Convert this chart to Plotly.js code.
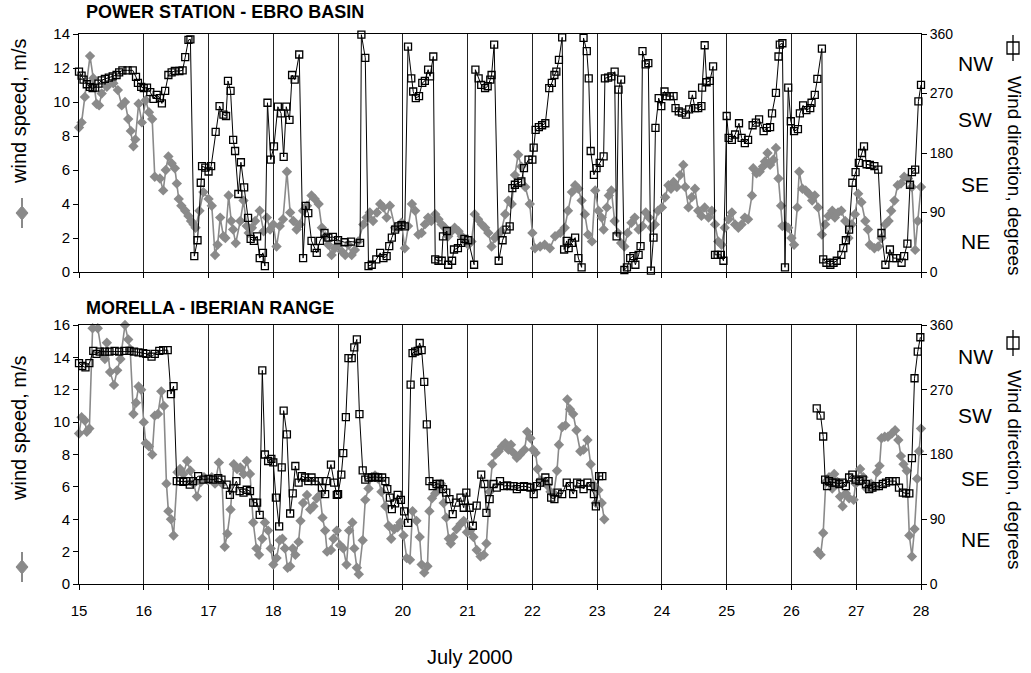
<!DOCTYPE html>
<html><head><meta charset="utf-8">
<script src="https://cdn.plot.ly/plotly-3.0.1.min.js"></script>
<style>html,body{margin:0;padding:0;background:#fff;}#chart{width:1031px;height:673px;}</style>
</head><body><div id="chart"></div>
<script>
// ---------- DATA (day of July 2000, value) ----------
const topDirT = [15.00,15.04,15.07,15.12,15.17,15.21,15.25,15.30,15.35,15.40,15.46,15.52,15.58,15.62,15.67,15.75,15.83,15.88,15.91,15.96,16.00,16.05,16.10,16.15,16.20,16.25,16.28,16.33,16.38,16.43,16.48,16.55,16.60,16.64,16.69,16.72,16.78,16.83,16.88,16.90,16.95,17.00,17.04,17.11,17.17,17.23,17.27,17.30,17.34,17.38,17.41,17.46,17.50,17.55,17.61,17.65,17.70,17.75,17.79,17.84,17.87,17.91,17.96,18.01,18.07,18.12,18.16,18.20,18.25,18.29,18.33,18.40,18.46,18.50,18.54,18.59,18.64,18.67,18.72,18.79,18.85,18.92,19.00,19.10,19.20,19.34,19.36,19.42,19.47,19.52,19.59,19.65,19.70,19.75,19.79,19.83,19.88,19.93,19.98,20.03,20.08,20.13,20.16,20.20,20.25,20.30,20.34,20.39,20.42,20.47,20.50,20.55,20.60,20.62,20.68,20.70,20.76,20.79,20.85,20.90,20.95,21.01,21.10,21.12,21.17,21.21,21.27,21.31,21.35,21.37,21.41,21.48,21.54,21.60,21.65,21.69,21.73,21.78,21.83,21.87,21.94,22.00,22.02,22.05,22.10,22.15,22.20,22.26,22.30,22.34,22.37,22.41,22.46,22.49,22.53,22.56,22.61,22.66,22.71,22.76,22.79,22.84,22.87,22.90,22.95,22.99,23.04,23.10,23.12,23.17,23.22,23.27,23.30,23.33,23.37,23.42,23.46,23.51,23.56,23.59,23.64,23.67,23.70,23.75,23.79,23.83,23.87,23.90,23.95,23.99,24.04,24.07,24.12,24.18,24.21,24.26,24.31,24.37,24.42,24.47,24.51,24.56,24.61,24.62,24.66,24.69,24.74,24.79,24.82,24.86,24.91,24.95,25.00,25.03,25.08,25.13,25.19,25.23,25.28,25.33,25.40,25.45,25.50,25.57,25.62,25.67,25.70,25.76,25.80,25.82,25.86,25.90,25.95,25.99,26.04,26.10,26.13,26.18,26.23,26.29,26.31,26.36,26.40,26.47,26.49,26.54,26.60,26.65,26.70,26.77,26.80,26.84,26.89,26.94,26.99,27.04,27.09,27.12,27.16,27.21,27.28,27.34,27.39,27.45,27.52,27.57,27.62,27.70,27.74,27.79,27.83,27.86,27.91,27.96,28.00];
const topDirV = [303,297,291,284,280,278,279,285,290,292,294,296,298,302,305,305,305,295,286,280,278,279,272,262,268,263,255,274,298,302,304,304,305,325,351,352,24,48,135,160,158,152,160,212,251,238,236,289,274,200,183,118,166,128,82,50,47,54,21,29,9,256,170,190,250,240,174,250,230,298,291,329,21,100,89,47,36,29,47,59,52,53,48,45,46,44,359,324,9,11,19,29,21,24,39,52,64,69,71,69,341,293,273,263,266,286,289,306,296,326,19,17,17,54,62,11,17,34,36,44,50,48,11,306,293,283,278,281,291,298,344,17,48,64,69,127,132,135,137,157,170,170,188,215,219,222,225,278,286,298,303,321,355,34,47,36,44,52,21,7,354,334,293,183,147,157,165,175,293,294,296,303,54,276,291,3,7,21,24,11,26,39,334,314,316,2,52,218,263,251,273,266,266,266,248,243,241,238,246,268,248,248,251,279,343,287,289,311,26,26,26,17,236,203,200,208,225,203,195,200,222,226,231,213,218,219,240,271,326,344,346,7,279,228,213,216,240,252,245,248,256,268,292,338,19,14,11,14,17,26,36,48,64,135,151,165,180,190,163,162,160,155,59,11,34,21,21,14,24,43,132,151,155,258,283];

const topSpdT = [15.00,15.04,15.09,15.17,15.22,15.27,15.31,15.35,15.43,15.53,15.60,15.66,15.71,15.76,15.80,15.84,15.87,15.92,15.97,16.03,16.08,16.13,16.17,16.25,16.30,16.34,16.38,16.43,16.48,16.51,16.54,16.58,16.64,16.69,16.73,16.77,16.80,16.86,16.92,17.00,17.05,17.10,17.14,17.18,17.23,17.26,17.31,17.35,17.38,17.42,17.49,17.54,17.59,17.62,17.67,17.72,17.79,17.85,17.90,17.95,18.00,18.05,18.10,18.15,18.21,18.26,18.31,18.36,18.41,18.46,18.52,18.59,18.64,18.70,18.75,18.80,18.85,18.90,18.95,19.00,19.06,19.11,19.16,19.21,19.26,19.31,19.39,19.44,19.49,19.54,19.60,19.65,19.70,19.75,19.80,19.88,19.93,19.98,20.03,20.08,20.14,20.19,20.24,20.29,20.34,20.39,20.44,20.50,20.55,20.60,20.65,20.70,20.75,20.80,20.86,20.91,20.96,21.01,21.06,21.11,21.16,21.22,21.27,21.32,21.37,21.42,21.47,21.52,21.58,21.63,21.68,21.73,21.78,21.83,21.89,21.96,22.00,22.04,22.12,22.19,22.27,22.35,22.43,22.50,22.55,22.61,22.66,22.71,22.76,22.81,22.86,22.92,22.97,23.02,23.07,23.10,23.15,23.18,23.22,23.27,23.32,23.37,23.42,23.47,23.53,23.58,23.64,23.70,23.75,23.80,23.84,23.89,23.94,24.00,24.05,24.10,24.14,24.18,24.23,24.28,24.33,24.36,24.41,24.46,24.51,24.56,24.61,24.66,24.72,24.77,24.82,24.87,24.92,24.97,25.03,25.08,25.13,25.18,25.23,25.28,25.33,25.39,25.41,25.46,25.51,25.56,25.59,25.63,25.67,25.72,25.76,25.80,25.84,25.86,25.91,25.95,26.00,26.04,26.09,26.12,26.17,26.22,26.27,26.32,26.36,26.41,26.47,26.52,26.57,26.63,26.67,26.72,26.77,26.83,26.88,26.93,26.98,27.03,27.08,27.14,27.18,27.21,27.28,27.34,27.39,27.45,27.50,27.54,27.59,27.64,27.69,27.74,27.80,27.86,27.91,27.95,28.00];
const topSpdV = [8.5,8.8,10.3,12.7,11.4,9.9,9.8,10.5,10.9,11.1,10.7,9.8,10.0,9.0,8.3,7.4,7.8,9.9,8.8,10.1,9.4,9.0,5.6,5.5,4.8,6.0,6.8,6.4,6.1,5.2,4.3,3.9,3.6,3.3,3.0,2.8,2.6,3.6,4.7,4.3,3.9,1.0,1.6,3.2,2.1,2.0,4.5,3.0,2.5,1.7,3.0,4.2,2.7,2.3,2.6,3.0,3.6,2.4,3.2,2.5,2.8,1.5,2.7,3.1,5.9,3.5,3.0,2.5,2.8,3.6,3.9,4.5,4.3,4.0,2.6,2.1,1.6,1.0,1.4,1.6,1.2,1.0,1.6,1.0,1.3,1.8,2.8,3.2,3.5,3.0,3.5,4.0,3.8,3.2,3.9,2.6,2.6,2.9,1.4,2.7,4.0,3.6,2.2,2.3,2.8,3.2,3.0,3.4,3.1,2.8,2.6,2.1,2.4,2.6,2.4,2.1,1.8,1.6,1.8,3.4,3.1,2.8,2.6,2.3,1.5,2.0,2.2,2.4,3.4,4.2,4.0,5.7,6.9,6.2,5.0,4.0,2.3,1.4,1.5,1.6,1.4,2.1,2.3,2.6,3.6,4.7,5.1,4.9,4.2,3.4,2.2,1.8,4.8,3.6,3.2,2.5,3.8,4.5,4.8,3.0,2.3,1.7,1.5,2.3,2.9,3.2,2.5,2.7,3.5,3.2,2.6,2.8,3.6,3.8,4.4,5.1,4.9,5.3,5.0,5.7,6.3,5.0,3.8,4.4,4.9,3.6,3.3,3.8,3.2,3.6,2.8,1.8,1.6,2.6,3.1,3.5,2.8,2.6,2.8,3.2,3.1,4.5,6.1,5.8,5.9,6.2,6.5,7.0,6.3,6.6,7.3,5.5,3.9,2.7,2.7,2.6,2.0,1.6,3.8,5.9,4.9,4.8,4.6,4.2,4.5,3.8,2.2,2.8,3.3,3.6,3.2,3.5,3.6,3.0,2.0,2.8,3.4,4.6,4.1,3.0,2.5,1.6,1.4,1.5,2.0,2.8,3.0,3.6,4.2,5.1,5.2,5.6,5.5,5.0,1.3,3.0,5.0];

const botDirT = [15.00,15.05,15.10,15.16,15.22,15.27,15.32,15.40,15.47,15.55,15.62,15.70,15.78,15.85,15.92,15.99,16.04,16.12,16.17,16.24,16.30,16.37,16.42,16.46,16.51,16.56,16.61,16.66,16.71,16.76,16.84,16.92,17.00,17.07,17.15,17.20,17.28,17.33,17.38,17.43,17.48,17.54,17.59,17.64,17.69,17.75,17.79,17.83,17.87,17.92,17.97,18.00,18.04,18.09,18.13,18.16,18.21,18.26,18.30,18.34,18.39,18.44,18.49,18.54,18.59,18.64,18.70,18.75,18.80,18.82,18.89,18.94,18.98,19.00,19.05,19.08,19.12,19.16,19.21,19.25,19.29,19.33,19.38,19.42,19.47,19.52,19.57,19.62,19.68,19.73,19.76,19.80,19.83,19.88,19.92,19.97,20.02,20.08,20.12,20.15,20.19,20.23,20.26,20.29,20.33,20.37,20.41,20.46,20.52,20.57,20.62,20.67,20.72,20.77,20.82,20.89,20.94,20.98,21.03,21.08,21.14,21.21,21.26,21.29,21.34,21.40,21.45,21.50,21.56,21.61,21.66,21.71,21.76,21.81,21.87,21.92,21.97,22.02,22.07,22.12,22.20,22.25,22.29,22.34,22.39,22.46,22.53,22.58,22.63,22.69,22.74,22.79,22.85,22.90,22.95,22.98,23.03,23.08,24.50,26.39,26.45,26.49,26.52,26.55,26.58,26.63,26.68,26.74,26.79,26.84,26.89,26.94,26.99,27.05,27.10,27.15,27.20,27.25,27.30,27.35,27.41,27.46,27.51,27.56,27.61,27.66,27.72,27.77,27.82,27.86,27.90,27.95,27.99];
const botDirV = [307,303,301,307,324,320,323,323,323,324,323,324,324,323,322,321,320,316,320,324,325,325,264,275,143,143,142,143,138,143,150,145,146,145,147,145,138,124,133,143,129,127,131,129,113,113,96,297,180,171,174,169,120,80,162,241,208,98,126,164,141,150,148,143,148,143,143,134,125,143,166,141,124,125,152,182,232,314,314,329,340,236,158,145,148,148,149,148,148,143,132,120,104,112,124,117,101,85,277,321,323,324,335,325,281,222,143,136,139,139,132,127,118,97,113,120,106,127,106,81,109,152,139,99,118,139,134,143,136,137,136,136,132,135,136,135,134,125,136,141,148,143,120,118,127,125,141,136,125,141,139,132,141,136,125,108,150,150,null,244,234,205,145,136,143,141,141,139,141,136,148,152,145,143,145,139,132,134,136,136,139,141,143,143,143,134,127,126,126,175,286,323,343];

const botSpdT = [15.00,15.04,15.09,15.12,15.16,15.21,15.29,15.35,15.40,15.43,15.48,15.54,15.59,15.64,15.71,15.76,15.79,15.84,15.88,15.92,15.96,16.00,16.03,16.08,16.13,16.17,16.22,16.27,16.31,16.35,16.38,16.42,16.46,16.52,16.56,16.61,16.67,16.72,16.77,16.82,16.88,16.93,16.99,17.05,17.10,17.16,17.21,17.25,17.29,17.34,17.39,17.44,17.49,17.54,17.59,17.64,17.69,17.74,17.78,17.83,17.87,17.92,17.96,18.00,18.05,18.10,18.14,18.18,18.22,18.26,18.30,18.34,18.39,18.42,18.46,18.52,18.57,18.62,18.67,18.72,18.76,18.80,18.83,18.89,18.93,18.98,19.03,19.08,19.13,19.17,19.22,19.25,19.29,19.32,19.38,19.42,19.47,19.52,19.57,19.62,19.67,19.73,19.78,19.82,19.87,19.92,19.96,20.01,20.06,20.11,20.15,20.21,20.26,20.29,20.33,20.38,20.41,20.45,20.50,20.54,20.59,20.63,20.67,20.71,20.74,20.78,20.83,20.89,20.94,20.99,21.04,21.09,21.14,21.20,21.25,21.29,21.34,21.38,21.43,21.48,21.53,21.58,21.63,21.67,21.71,21.76,21.81,21.88,21.92,21.97,22.01,22.05,22.08,22.12,22.17,22.23,22.28,22.33,22.38,22.41,22.46,22.51,22.54,22.58,22.63,22.68,22.74,22.79,22.85,22.90,22.95,22.98,23.02,23.07,23.11,24.50,26.41,26.45,26.49,26.53,26.58,26.63,26.66,26.71,26.75,26.79,26.84,26.89,26.96,26.99,27.06,27.11,27.16,27.23,27.28,27.32,27.36,27.39,27.44,27.49,27.55,27.60,27.65,27.69,27.73,27.78,27.82,27.86,27.90,27.94,27.97,28.00];
const botSpdV = [9.3,10.3,10.1,9.4,9.6,15.8,15.8,14.3,13.9,14.9,13.1,12.3,13.2,13.9,16.0,15.1,14.5,10.5,11.2,12.2,12.0,10.0,8.7,8.5,8.0,10.4,10.5,11.9,11.0,6.2,4.5,4.0,3.0,6.9,7.1,6.8,7.6,7.0,6.2,5.4,6.3,6.6,6.4,6.6,6.2,7.5,6.2,2.3,3.1,4.6,7.4,7.1,7.2,6.8,7.6,6.8,3.8,2.2,1.8,2.8,3.8,3.3,2.2,1.2,1.6,2.7,2.8,2.2,1.0,1.1,2.2,1.8,2.6,3.9,5.0,5.5,4.6,4.8,5.3,5.5,4.1,3.3,2.0,2.1,2.8,3.3,2.4,2.2,1.2,3.3,3.8,2.2,1.0,0.6,2.7,5.2,5.9,6.6,6.7,6.5,5.7,4.8,3.6,2.8,3.4,3.5,3.8,3.0,1.6,1.5,4.5,3.9,2.9,1.2,0.7,1.1,4.5,5.3,5.6,5.8,6.2,5.0,4.1,2.8,2.5,2.9,3.4,3.7,3.9,3.2,3.3,2.9,2.1,1.7,1.8,2.5,5.7,7.4,8.0,8.2,8.5,8.7,8.3,8.6,8.1,7.8,8.0,8.3,9.4,9.0,8.3,8.1,7.1,6.4,6.3,6.1,5.7,5.6,7.0,8.6,9.7,9.8,11.4,10.8,10.5,9.5,8.2,8.3,8.9,7.4,6.1,5.0,5.8,5.0,4.0,null,2.0,1.8,3.15,6.3,6.6,5.9,6.8,6.3,5.4,4.8,5.6,5.3,5.2,6.2,7.1,6.6,5.9,6.2,6.0,6.9,7.3,9.0,9.1,9.1,9.3,9.5,8.9,7.9,7.4,7.0,3.0,1.7,3.4,6.5,8.2,9.6];

const dayTicks = [15,16,17,18,19,20,21,22,23,24,25,26,27,28];
const dirTicks = [0,90,180,270,360];
const compass = ['NE','SE','SW','NW'];
const panelTitles = ['POWER STATION - EBRO BASIN','MORELLA - IBERIAN RANGE'];

// ---------- LAYOUT ----------
const FONT = 'Liberation Sans, Arial, sans-serif';
const W=1031, H=673, ML=79, MR=110, MT=34, MB=89;
const PW=W-ML-MR, PH=H-MT-MB;
const px = x => (x-ML)/PW;
const py = y => (H-MB-y)/PH;

const GREY='#8a8a8a';
const spdTrace = (t,v,xa,ya) => ({x:t,y:v,xaxis:xa,yaxis:ya,type:'scatter',mode:'lines+markers',
  line:{color:GREY,width:1.6},marker:{symbol:'diamond',size:8,color:GREY},cliponaxis:false,hoverinfo:'x+y'});
const dirTrace = (t,v,xa,ya) => ({x:t,y:v,xaxis:xa,yaxis:ya,type:'scatter',mode:'lines+markers',
  line:{color:'#000',width:1},marker:{symbol:'square-open',size:7,color:'#000',line:{width:1.3,color:'#000'}},cliponaxis:false,hoverinfo:'x+y'});

const data = [
  spdTrace(topSpdT,topSpdV,'x','y'),
  dirTrace(topDirT,topDirV,'x','y2'),
  spdTrace(botSpdT,botSpdV,'x2','y3'),
  dirTrace(botDirT,botDirV,'x2','y4')
];

const xBase = {range:[15,28],tickvals:dayTicks,showgrid:true,gridcolor:'#222',gridwidth:1,
  showline:true,linecolor:'#000',linewidth:1,mirror:true,ticks:'outside',ticklen:5,tickcolor:'#000',
  zeroline:false,fixedrange:true,tickfont:{size:15,family:FONT}};
const yLeft = {showline:true,linecolor:'#000',linewidth:1,ticks:'outside',ticklen:5,tickcolor:'#000',
  showgrid:false,zeroline:false,dtick:2,tickfont:{size:15,family:FONT},fixedrange:true};
const yRight = {side:'right',range:[0,360],tickvals:dirTicks,showline:true,linecolor:'#000',linewidth:1,
  ticks:'outside',ticklen:5,tickcolor:'#000',showgrid:false,zeroline:false,tickfont:{size:14,family:FONT},fixedrange:true};

const annotations = [];
annotations.push({text:'<b>'+panelTitles[0]+'</b>',xref:'paper',yref:'paper',x:px(84),y:py(12),xanchor:'left',yanchor:'middle',showarrow:false,font:{size:18,family:FONT}});
annotations.push({text:'<b>'+panelTitles[1]+'</b>',xref:'paper',yref:'paper',x:px(84),y:py(308),xanchor:'left',yanchor:'middle',showarrow:false,font:{size:18,family:FONT}});
// compass labels
const topCompY=[241,184,119,63], botCompY=[539,478,415,356];
compass.forEach((c,i)=>{
  annotations.push({text:c,xref:'paper',yref:'paper',x:px(975),y:py(topCompY[i]),xanchor:'center',yanchor:'middle',showarrow:false,font:{size:21,family:FONT}});
  annotations.push({text:c,xref:'paper',yref:'paper',x:px(975),y:py(botCompY[i]),xanchor:'center',yanchor:'middle',showarrow:false,font:{size:21,family:FONT}});
});
// axis titles
[111,428].forEach(cy=>{
  annotations.push({text:'wind speed, m/s',xref:'paper',yref:'paper',x:px(19),y:py(cy),xanchor:'center',yanchor:'middle',textangle:-90,showarrow:false,font:{size:20,family:FONT}});
});
[176,470].forEach(cy=>{
  annotations.push({text:'Wind direction, degrees',xref:'paper',yref:'paper',x:px(1015),y:py(cy),xanchor:'center',yanchor:'middle',textangle:90,showarrow:false,font:{size:19,family:FONT}});
});
annotations.push({text:'July 2000',xref:'paper',yref:'paper',x:px(470),y:py(657),xanchor:'center',yanchor:'middle',showarrow:false,font:{size:20,family:FONT}});

// legend-style symbols next to axis titles
const shapes = [];
function diamond(cx,cy){
  const pts=[[cx,cy-7],[cx+6,cy],[cx,cy+7],[cx-6,cy]];
  return {type:'path',xref:'paper',yref:'paper',path:'M'+pts.map(p=>px(p[0])+','+py(p[1])).join(' L')+' Z',fillcolor:GREY,line:{color:GREY,width:1}};
}
function vline(x,y0,y1,color,w){return {type:'line',xref:'paper',yref:'paper',x0:px(x),x1:px(x),y0:py(y0),y1:py(y1),line:{color:color,width:w}};}
function sq(cx,cy){return {type:'rect',xref:'paper',yref:'paper',x0:px(cx-6),x1:px(cx+6),y0:py(cy-6),y1:py(cy+6),fillcolor:'rgba(255,255,255,0)',line:{color:'#000',width:1.3}};}
[213,567].forEach(cy=>{shapes.push(vline(22,cy-15,cy+15,GREY,2)); shapes.push(diamond(22,cy));});
[48,343].forEach(cy=>{shapes.push(vline(1013,cy-13,cy+13,'#000',1.3)); shapes.push(sq(1013,cy));});

const layout = {
  width:W,height:H,margin:{l:ML,r:MR,t:MT,b:MB,pad:0},showlegend:false,
  paper_bgcolor:'#fff',plot_bgcolor:'#fff',font:{family:FONT,size:14,color:'#000'},
  xaxis:Object.assign({},xBase,{anchor:'y',domain:[0,1],showticklabels:false}),
  yaxis:Object.assign({},yLeft,{domain:[py(272),1],range:[0,14],anchor:'x'}),
  yaxis2:Object.assign({},yRight,{overlaying:'y',anchor:'x'}),
  xaxis2:Object.assign({},xBase,{anchor:'y3',domain:[0,1],showticklabels:true,ticklabelstandoff:8}),
  yaxis3:Object.assign({},yLeft,{domain:[0,py(325)],range:[0,16],anchor:'x2'}),
  yaxis4:Object.assign({},yRight,{overlaying:'y3',anchor:'x2'}),
  annotations:annotations,shapes:shapes
};

Plotly.newPlot('chart',data,layout,{displayModeBar:false,staticPlot:true});
</script></body></html>
